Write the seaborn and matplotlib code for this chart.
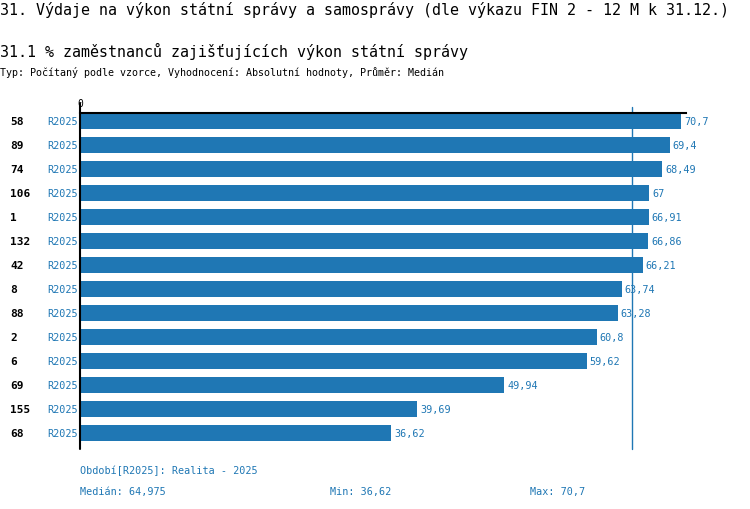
import matplotlib
matplotlib.use("Agg")
import matplotlib.pyplot as plt
import matplotlib.transforms as mtrans
import seaborn as sns
import pandas as pd

ids = ["58", "89", "74", "106", "1", "132", "42", "8", "88", "2", "6", "69", "155", "68"]
values = [70.7, 69.4, 68.49, 67, 66.91, 66.86, 66.21, 63.74, 63.28, 60.8, 59.62, 49.94, 39.69, 36.62]
period = "R2025"
median_val = 64.975
min_val = 36.62
max_val = 70.7

title = "31. Výdaje na výkon státní správy a samosprávy (dle výkazu FIN 2 - 12 M k 31.12.)"
subtitle = "31.1 % zaměstnanců zajišťujících výkon státní správy"
info = "Typ: Počítaný podle vzorce, Vyhodnocení: Absolutní hodnoty, Průměr: Medián"
footer1 = "Období[R2025]: Realita - 2025"

sns.set_theme(style="white")
plt.rcParams['font.family'] = ['DejaVu Sans Mono', 'DejaVu Sans']

blue = "#1f77b4"
W, H = 750, 510
fig = plt.figure(figsize=(7.5, 5.1), dpi=100)
ax = fig.add_axes([80 / W, 60 / H, 606 / W, 336 / H])

df = pd.DataFrame({"id": ids, "value": values})
sns.barplot(data=df, x="value", y="id", orient="h", color=blue, saturation=1,
            width=0.67, ax=ax, order=ids, linewidth=0, edgecolor=blue)

ax.set_xlim(0, 71.3)
ax.set_ylim(len(ids) - 1 + 0.667, -0.333)
ax.set_xticks([])
ax.set_yticks([])
ax.set_xlabel("")
ax.set_ylabel("")
for s in ["bottom", "right", "left"]:
    ax.spines[s].set_visible(False)
ax.spines["top"].set_color("black")
ax.spines["top"].set_linewidth(1.5)

ax.axvline(0, ymin=0, ymax=1.03, color="black", lw=1.5, clip_on=False)
ax.axvline(median_val, ymin=0, ymax=1.018, color=blue, lw=1, clip_on=False)
ax.text(0, 1.015, "0", transform=ax.get_xaxis_transform(), ha="center", va="bottom",
        fontsize=7, color="black")

tr = mtrans.blended_transform_factory(fig.transFigure, ax.transData)
for i, (k, v) in enumerate(zip(ids, values)):
    ax.text(10 / W, i, k, transform=tr, ha="left", va="center", fontsize=8,
            fontweight="bold", color="black")
    ax.text(78 / W, i, period, transform=tr, ha="right", va="center", fontsize=7.3,
            color=blue)
    lab = ("%g" % v).replace(".", ",")
    ax.text(v + 0.35, i, lab, ha="left", va="center", fontsize=7.3, color=blue)

fig.text(0, 1 - 10 / H, title, ha="left", va="center", fontsize=10.8, color="black")
fig.text(0, 1 - 51 / H, subtitle, ha="left", va="center", fontsize=10.8, color="black")
fig.text(0, 1 - 73 / H, info, ha="left", va="center", fontsize=7.2, color="black")

fig.text(80 / W, 1 - 471 / H, footer1, ha="left", va="center", fontsize=7.3, color=blue)
fig.text(80 / W, 1 - 492 / H, "Medián: " + ("%g" % median_val).replace(".", ","),
         ha="left", va="center", fontsize=7.3, color=blue)
fig.text(330 / W, 1 - 492 / H, "Min: " + ("%g" % min_val).replace(".", ","),
         ha="left", va="center", fontsize=7.3, color=blue)
fig.text(530 / W, 1 - 492 / H, "Max: " + ("%g" % max_val).replace(".", ","),
         ha="left", va="center", fontsize=7.3, color=blue)

fig.savefig("out.png", dpi=100)
